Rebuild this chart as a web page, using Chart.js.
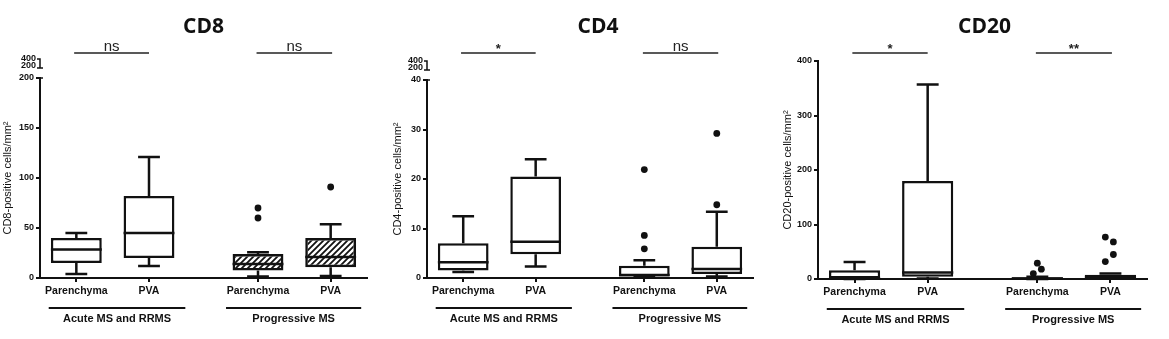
<!DOCTYPE html>
<html>
<head>
<meta charset="utf-8">
<title>CD8 / CD4 / CD20 infiltrates</title>
<script src="https://cdn.jsdelivr.net/npm/chart.js@4.4.1/dist/chart.umd.min.js"></script>
<style>
  body { margin: 0; background: #fff; }
  #wrap { position: relative; width: 1169px; height: 339px; }
  #wrap canvas { position: absolute; top: 0; }
</style>
</head>
<body>
<div id="wrap">
  <canvas id="cd8" width="390" height="339" style="left:0"></canvas>
  <canvas id="cd4" width="390" height="339" style="left:390px"></canvas>
  <canvas id="cd20" width="389" height="339" style="left:780px"></canvas>
</div>
<script>
// groups along the x axis
const groupNames = ['Parenchyma', 'PVA', 'Parenchyma', 'PVA'];
const groupX = [0.5, 1.5, 3, 4];
const cohortNames = ['Acute MS and RRMS', 'Progressive MS'];
const cohortSpans = [[0.12, 2.0], [2.56, 4.42]];
const compareSpans = [[0.47, 1.5], [2.98, 4.02]];

// CD8 (cells/mm2)
const cd8Low = [4, 12, 1.5, 2];
const cd8Q1 = [15, 20, 7.5, 10.7];
const cd8Median = [28.5, 45, 14, 21];
const cd8Q3 = [40, 82, 24, 40];
const cd8High = [45, 121, 25.7, 53.7];
const cd8Outliers = [[], [], [70, 60], [91]];
const cd8Signif = ['ns', 'ns'];
const cd8Ticks = [0, 50, 100, 150, 200];

// CD4 (cells/mm2)
const cd4Low = [1.2, 2.3, 0.1, 0.3];
const cd4Q1 = [1.5, 4.8, 0.3, 0.8];
const cd4Median = [3.2, 7.3, 0.6, 1.8];
const cd4Q3 = [7.0, 20.5, 2.5, 6.3];
const cd4High = [12.5, 24, 3.6, 13.4];
const cd4Outliers = [[], [], [21.9, 8.6, 5.9], [29.2, 14.8]];
const cd4Signif = ['*', 'ns'];
const cd4Ticks = [0, 10, 20, 30, 40];

// CD20 (cells/mm2)
const cd20Low = [0, 1, 0, 0.5];
const cd20Q1 = [1, 4, 0.5, 2];
const cd20Median = [2, 12, 1, 4];
const cd20Q3 = [16, 180, 3, 8];
const cd20High = [31, 357, 4, 10];
const cd20Outliers = [[], [], [29, 18, 10], [77, 68, 45, 32]];
const cd20Jitter = [[], [], [0, 0.055, -0.055], [-0.07, 0.04, 0.04, -0.07]];
const cd20Signif = ['*', '**'];
const cd20Ticks = [0, 100, 200, 300, 400];

const ink = '#111';
const font = '"Liberation Sans", Arial, sans-serif';
const capWidth = 0.3;
const boxLine = 2.5;

function hatchPattern() {
  const c = document.createElement('canvas');
  c.width = 6; c.height = 6;
  const g = c.getContext('2d');
  g.strokeStyle = ink;
  g.lineWidth = 1.8;
  g.beginPath();
  g.moveTo(0, 6); g.lineTo(6, 0);
  g.moveTo(-1, 1); g.lineTo(1, -1);
  g.moveTo(5, 7); g.lineTo(7, 5);
  g.stroke();
  return g.createPattern(c, 'repeat');
}
const hatch = hatchPattern();

const panels = [
  {
    id: 'cd8', title: 'CD8', yLabel: 'CD8-positive cells/mm²', yMax: 200, ticks: cd8Ticks,
    low: cd8Low, q1: cd8Q1, median: cd8Median, q3: cd8Q3, high: cd8High,
    outliers: cd8Outliers, jitter: null, signif: cd8Signif,
    hatched: [false, false, true, true], breakLabels: ['400', '200'],
    yWidth: 40, padRight: 23, top: 78, xHeight: 61, titleShift: 0
  },
  {
    id: 'cd4', title: 'CD4', yLabel: 'CD4-positive cells/mm²', yMax: 40, ticks: cd4Ticks,
    low: cd4Low, q1: cd4Q1, median: cd4Median, q3: cd4Q3, high: cd4High,
    outliers: cd4Outliers, jitter: null, signif: cd4Signif,
    hatched: [false, false, false, false], breakLabels: ['400', '200'],
    yWidth: 37, padRight: 27, top: 80, xHeight: 61, titleShift: 8
  },
  {
    id: 'cd20', title: 'CD20', yLabel: 'CD20-positive cells/mm²', yMax: 400, ticks: cd20Ticks,
    low: cd20Low, q1: cd20Q1, median: cd20Median, q3: cd20Q3, high: cd20High,
    outliers: cd20Outliers, jitter: cd20Jitter, signif: cd20Signif,
    hatched: [false, false, false, false], breakLabels: null,
    yWidth: 38, padRight: 22, top: 61, xHeight: 60, titleShift: 2
  }
];

// whiskers, medians and all the annotation around each panel
function decor(p) {
  return {
    id: 'decor',
    afterDatasetsDraw(chart) {
      const { ctx, scales: { x, y } } = chart;
      const bars = chart.getDatasetMeta(0).data;
      const capHalf = (x.getPixelForValue(capWidth) - x.getPixelForValue(0)) / 2;
      ctx.save();
      ctx.strokeStyle = ink;
      ctx.lineWidth = boxLine;
      groupX.forEach((gx, i) => {
        const cx = x.getPixelForValue(gx);
        const half = bars[i].width / 2;
        const yHigh = y.getPixelForValue(p.high[i]);
        const yLow = y.getPixelForValue(p.low[i]);
        const yMed = y.getPixelForValue(p.median[i]);
        ctx.beginPath();
        ctx.moveTo(cx, y.getPixelForValue(p.q3[i]));
        ctx.lineTo(cx, yHigh);
        ctx.moveTo(cx - capHalf, yHigh);
        ctx.lineTo(cx + capHalf, yHigh);
        ctx.moveTo(cx, y.getPixelForValue(p.q1[i]));
        ctx.lineTo(cx, yLow);
        ctx.moveTo(cx - capHalf, yLow);
        ctx.lineTo(cx + capHalf, yLow);
        ctx.moveTo(cx - half, yMed);
        ctx.lineTo(cx + half, yMed);
        ctx.stroke();
      });
      ctx.restore();
    },
    afterDraw(chart) {
      const { ctx, chartArea: a, scales: { x } } = chart;
      ctx.save();
      ctx.fillStyle = ink;
      ctx.strokeStyle = ink;
      ctx.textAlign = 'center';
      ctx.textBaseline = 'alphabetic';

      ctx.font = 'bold 21px "Open Sans", sans-serif';
      ctx.fillText(p.title, (a.left + a.right) / 2 + p.titleShift, 33);

      // significance bars
      ctx.lineWidth = 1.5;
      ctx.strokeStyle = '#222';
      ctx.fillStyle = '#222';
      compareSpans.forEach(([from, to], k) => {
        const x0 = x.getPixelForValue(from);
        const x1 = x.getPixelForValue(to);
        ctx.beginPath();
        ctx.moveTo(x0, 53);
        ctx.lineTo(x1, 53);
        ctx.stroke();
        const s = p.signif[k];
        ctx.font = s === 'ns' ? '15px ' + font : 'bold 13px ' + font;
        ctx.fillText(s, (x0 + x1) / 2, s === 'ns' ? 51 : 53);
      });

      // cohort brackets under the group labels
      ctx.strokeStyle = ink;
      ctx.fillStyle = ink;
      ctx.lineWidth = 2;
      ctx.font = 'bold 11px ' + font;
      ctx.textBaseline = 'middle';
      cohortSpans.forEach(([from, to], k) => {
        const x0 = x.getPixelForValue(from);
        const x1 = x.getPixelForValue(to);
        ctx.beginPath();
        ctx.moveTo(x0, a.bottom + 30);
        ctx.lineTo(x1, a.bottom + 30);
        ctx.stroke();
        ctx.fillText(cohortNames[k], (x0 + x1) / 2, a.bottom + 41);
      });

      // broken y axis: squeezed upper segment
      if (p.breakLabels) {
        const L = a.left, T = a.top;
        ctx.font = 'bold 9px ' + font;
        ctx.textAlign = 'right';
        ctx.fillText(p.breakLabels[0], L - 4, T - 19);
        ctx.fillText(p.breakLabels[1], L - 4, T - 12);
        ctx.lineWidth = 1.5;
        ctx.beginPath();
        ctx.moveTo(L - 3, T - 19);
        ctx.lineTo(L, T - 19);
        ctx.lineTo(L, T - 10);
        ctx.moveTo(L - 3, T - 10);
        ctx.lineTo(L + 3, T - 10);
        ctx.moveTo(L, T);
        ctx.lineTo(L + 3, T);
        ctx.stroke();
      }
      ctx.restore();
    }
  };
}

function drawPanel(p) {
  const boxes = groupX.map((gx, i) => ({ x: gx, y: [p.q1[i], p.q3[i]] }));
  const dots = [];
  p.outliers.forEach((vals, i) => {
    vals.forEach((v, k) => {
      dots.push({ x: groupX[i] + (p.jitter ? p.jitter[i][k] : 0), y: v });
    });
  });

  new Chart(document.getElementById(p.id), {
    type: 'bar',
    data: {
      datasets: [
        {
          data: boxes,
          backgroundColor: p.hatched.map(h => h ? hatch : '#fff'),
          borderColor: ink,
          borderWidth: boxLine,
          borderSkipped: false,
          barPercentage: 0.7,
          categoryPercentage: 1
        },
        {
          type: 'scatter',
          data: dots,
          pointRadius: 3.4,
          backgroundColor: ink,
          borderWidth: 0
        }
      ]
    },
    options: {
      responsive: false,
      animation: false,
      events: [],
      layout: { padding: { top: p.top, right: p.padRight, left: 0, bottom: 0 } },
      plugins: { legend: { display: false }, tooltip: { enabled: false } },
      scales: {
        x: {
          type: 'linear',
          min: 0,
          max: 4.5,
          offset: false,
          afterBuildTicks: s => { s.ticks = groupX.map(v => ({ value: v })); },
          afterFit: s => { s.height = p.xHeight; },
          ticks: {
            callback: (v, i) => groupNames[i],
            autoSkip: false,
            maxRotation: 0,
            padding: 3,
            color: ink,
            font: { family: font, size: 10.5, weight: 'bold' }
          },
          grid: { offset: false, drawOnChartArea: false, tickLength: 4, color: ink, lineWidth: 2 },
          border: { color: ink, width: 2 }
        },
        y: {
          min: 0,
          max: p.yMax,
          afterBuildTicks: s => { s.ticks = p.ticks.map(v => ({ value: v })); },
          afterFit: s => { s.width = p.yWidth; },
          ticks: {
            padding: 2,
            color: ink,
            font: { family: font, size: 9, weight: 'bold' }
          },
          grid: { drawOnChartArea: false, tickLength: 4, color: ink, lineWidth: 2 },
          border: { color: ink, width: 2 },
          title: {
            display: true,
            text: p.yLabel,
            color: ink,
            padding: { top: 1, bottom: 0 },
            font: { family: font, size: 11 }
          }
        }
      }
    },
    plugins: [decor(p)]
  });
}

panels.forEach(drawPanel);
</script>
</body>
</html>
